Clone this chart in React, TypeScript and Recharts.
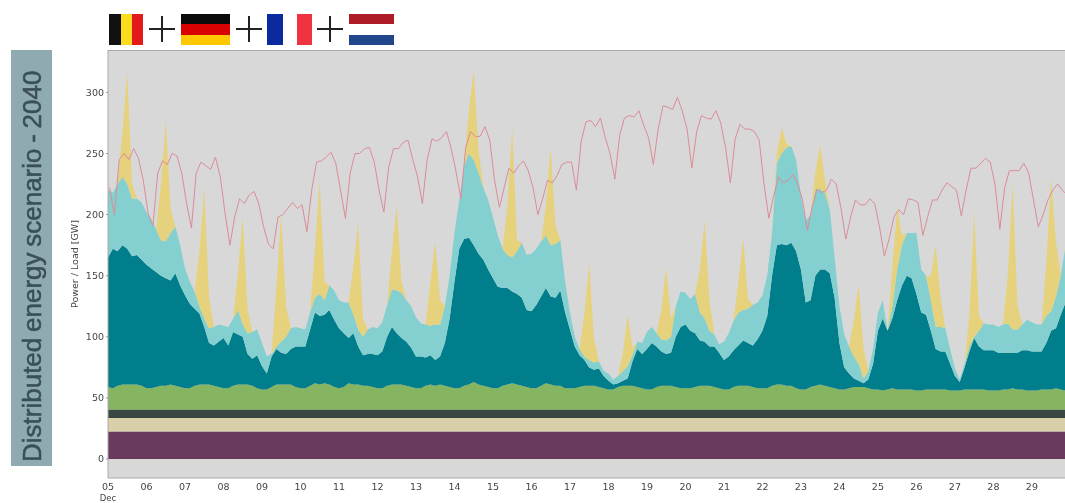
import { Area, CartesianGrid, ComposedChart, Line, XAxis, YAxis } from "recharts";

const dayLabels = ["05", "06", "07", "08", "09", "10", "11", "12", "13", "14", "15", "16", "17", "18", "19", "20", "21", "22", "23", "24", "25", "26", "27", "28", "29"];
const yTicks = [0, 50, 100, 150, 200, 250, 300];
const sampleHours = [0, 3, 6, 9, 12, 15, 18, 21];
const loadHours = [1, 4, 7, 10, 13, 16, 19, 22];

// flat bands, GW
const purpleBand = 22.5;
const tanBand = 11;
const coalBand = 7;

// upper edge of the green band, one row per day
const greenTop = [
  59, 58, 60, 61, 61, 61, 61, 60,
  58, 58, 59, 60, 60, 61, 60, 59,
  58, 58, 60, 61, 61, 61, 60, 59,
  58, 58, 60, 61, 61, 61, 60, 58,
  57, 57, 59, 61, 61, 61, 61, 59,
  58, 58, 60, 62, 61, 62, 61, 59,
  58, 59, 62, 61, 61, 60, 60, 59,
  58, 58, 60, 61, 61, 61, 60, 59,
  58, 58, 60, 61, 60, 61, 60, 59,
  58, 58, 60, 61, 63, 61, 60, 59,
  58, 58, 60, 61, 62, 61, 60, 59,
  58, 58, 60, 62, 61, 60, 60, 58,
  58, 58, 59, 60, 60, 60, 59, 58,
  57, 57, 59, 60, 60, 60, 59, 58,
  57, 57, 59, 60, 60, 60, 59, 58,
  58, 58, 59, 60, 60, 60, 59, 58,
  57, 57, 59, 60, 60, 60, 59, 58,
  58, 58, 60, 61, 61, 60, 60, 58,
  57, 57, 59, 60, 61, 60, 59, 58,
  57, 57, 58, 59, 59, 59, 58, 57,
  57, 56, 57, 58, 57, 57, 57, 57,
  56, 56, 57, 57, 57, 57, 57, 56,
  56, 56, 57, 57, 57, 57, 57, 56,
  56, 56, 57, 57, 58, 57, 57, 56,
  56, 56, 57, 57, 57, 58, 57, 56,
];

const tealTop = [
  165, 172, 170, 175, 172, 166, 167, 163,
  159, 156, 153, 150, 148, 146, 152, 142,
  134, 127, 123, 119, 108, 95, 93, 96,
  99, 93, 104, 102, 100, 86, 82, 85,
  76, 70, 84, 90, 87, 86, 90, 92,
  92, 92, 106, 120, 117, 118, 122, 114,
  107, 103, 99, 103, 92, 85, 86, 86,
  85, 88, 100, 108, 103, 99, 96, 91,
  84, 84, 83, 85, 81, 84, 95, 115,
  145, 172, 180, 181, 175, 168, 163, 155,
  148, 141, 140, 140, 137, 135, 132, 122,
  121, 126, 133, 140, 133, 132, 138, 120,
  106, 92, 85, 81, 75, 73, 74, 68,
  64, 61, 62, 64, 66, 80, 90, 86,
  90, 95, 92, 88, 86, 87, 100, 108,
  110, 105, 103, 97, 96, 92, 92, 87,
  81, 84, 89, 93, 97, 95, 93, 98,
  105, 117, 150, 175, 176, 175, 177, 170,
  155, 128, 130, 150, 155, 155, 152, 132,
  95, 75, 70, 66, 64, 62, 65, 78,
  105, 115, 105, 115, 130, 142, 150, 148,
  135, 120, 118, 105, 90, 88, 88, 78,
  68, 63, 75, 88, 99, 92, 89, 89,
  89, 87, 87, 87, 87, 87, 89, 89,
  88, 88, 88, 95, 105, 107, 118, 128,
];

const lightTop = [
  220, 218, 225, 231, 225, 213, 213, 210,
  202, 196, 188, 179, 178, 185, 190, 175,
  156, 145, 137, 125, 115, 107, 108, 110,
  109, 108, 115, 122, 110, 103, 104, 106,
  95, 84, 86, 92, 96, 100, 107, 108,
  107, 106, 120, 132, 135, 130, 142, 138,
  130, 128, 128, 118, 106, 100, 106, 108,
  107, 112, 126, 139, 138, 136, 130, 125,
  116, 111, 110, 109, 110, 110, 125, 150,
  185, 212, 240, 250, 245, 234, 222, 212,
  198, 183, 172, 167, 165, 170, 177, 167,
  168, 172, 178, 183, 175, 176, 179, 145,
  120, 100, 90, 84, 81, 79, 80, 72,
  70, 65, 68, 72, 76, 85, 96, 95,
  104, 108, 103, 98, 97, 100, 125, 137,
  136, 131, 135, 120, 115, 105, 102, 94,
  96, 103, 113, 120, 122, 123, 126, 128,
  134, 150, 185, 242, 250, 255, 256, 245,
  215, 195, 200, 220, 221, 218, 204, 165,
  125, 102, 92, 84, 78, 66, 72, 90,
  120, 130, 105, 125, 155, 175, 185, 185,
  185, 155, 150, 130, 108, 108, 107, 90,
  74, 65, 78, 92, 100, 105, 111, 110,
  110, 108, 110, 111, 106, 106, 110, 114,
  112, 110, 110, 117, 121, 133, 150, 174,
];

// solar sitting on top of the wind bands
const solar = [
  0, 0, 0, 36, 92, 12, 0, 0,
  0, 0, 0, 45, 99, 20, 0, 0,
  0, 0, 0, 45, 107, 25, 0, 0,
  0, 0, 0, 30, 88, 20, 0, 0,
  0, 0, 0, 50, 104, 25, 0, 0,
  0, 0, 0, 40, 93, 15, 0, 0,
  0, 0, 0, 40, 87, 15, 0, 0,
  0, 0, 0, 30, 70, 10, 0, 0,
  0, 0, 0, 35, 68, 20, 0, 0,
  0, 0, 0, 36, 73, 19, 0, 0,
  0, 0, 0, 40, 106, 9, 0, 0,
  0, 0, 0, 25, 80, 15, 0, 0,
  0, 0, 0, 35, 79, 20, 0, 0,
  0, 0, 0, 15, 42, 6, 0, 0,
  0, 0, 0, 25, 60, 15, 0, 0,
  0, 0, 0, 35, 81, 25, 0, 0,
  0, 0, 0, 25, 59, 8, 0, 0,
  0, 0, 0, 8, 21, 3, 0, 0,
  0, 0, 0, 15, 36, 10, 0, 0,
  0, 0, 0, 30, 65, 25, 0, 0,
  0, 0, 0, 32, 51, 8, 0, 0,
  0, 0, 0, 20, 67, 25, 0, 0,
  0, 0, 0, 25, 102, 12, 0, 0,
  0, 0, 0, 40, 120, 20, 0, 0,
  0, 0, 0, 45, 109, 45, 0, 0,
];

const load = [
  222, 200, 245, 250, 245, 254, 246, 228,
  201, 191, 234, 244, 241, 250, 248, 234,
  209, 189, 234, 243, 240, 237, 247, 231,
  201, 175, 198, 213, 209, 216, 219, 209,
  190, 176, 172, 198, 200, 205, 210, 205,
  208, 186, 220, 243, 244, 247, 251, 242,
  220, 197, 234, 250, 250, 254, 255, 243,
  220, 202, 239, 254, 254, 259, 261, 245,
  231, 209, 245, 262, 260, 263, 268, 254,
  235, 213, 255, 268, 264, 264, 272, 261,
  228, 206, 222, 238, 234, 240, 244, 236,
  222, 200, 213, 228, 226, 232, 241, 243,
  243, 220, 260, 276, 277, 272, 279, 263,
  250, 229, 265, 279, 281, 280, 285, 273,
  263, 241, 270, 289, 288, 286, 296, 285,
  270, 238, 268, 281, 279, 278, 285, 275,
  255, 226, 262, 274, 270, 270, 268, 261,
  225, 197, 215, 231, 226, 228, 233, 225,
  212, 187, 206, 221, 218, 220, 229, 225,
  205, 180, 198, 212, 208, 208, 213, 209,
  190, 166, 180, 198, 204, 200, 213, 212,
  210, 183, 198, 212, 212, 220, 226, 223,
  220, 199, 220, 238, 238, 242, 246, 243,
  225, 188, 222, 236, 236, 236, 242, 234,
  212, 190, 200, 212, 220, 225, 220, 216,
];

const stackTable = greenTop.map((green, i) => {
  const day = Math.floor(i / 8);
  return {
    day: day + sampleHours[i % 8] / 24,
    purple: purpleBand,
    tan: tanBand,
    coal: coalBand,
    green: green - (purpleBand + tanBand + coalBand),
    teal: tealTop[i] - green,
    light: lightTop[i] - tealTop[i],
    solar: solar[i],
  };
});

const loadTable = load.map((value, i) => ({
  day: Math.floor(i / 8) + loadHours[i % 8] / 24,
  load: value,
}));

const dayTicks = dayLabels.map((_, i) => i);

const layers: [string, string][] = [
  ["purple", "#6a3a5c"],
  ["tan", "#d9cfa8"],
  ["coal", "#3a4641"],
  ["green", "#86b562"],
  ["teal", "#007e8c"],
  ["light", "#84cfcf"],
  ["solar", "#e6d27c"],
];

const DayTick = ({ x, payload }: any) => (
  <g>
    <text x={x} y={490} textAnchor="middle" fontSize={9.5} fill="#444">
      {dayLabels[payload.value]}
    </text>
    {payload.value === 0 && (
      <text x={x} y={501} textAnchor="middle" fontSize={8.5} fill="#444">
        Dec
      </text>
    )}
  </g>
);

const box = (left: number, top: number, width: number, height: number, background: string) => (
  <div style={{ position: "absolute", left, top, width, height, background }} />
);

const Plus = ({ left }: { left: number }) => (
  <>
    {box(left, 28, 26, 2, "#222")}
    {box(left + 12, 16, 2, 26, "#222")}
  </>
);

export default function App() {
  return (
    <div
      style={{
        position: "absolute",
        left: 0,
        top: 0,
        width: 1065,
        height: 503,
        overflow: "hidden",
        background: "#fff",
        fontFamily: "'DejaVu Sans'",
        filter: "blur(0.5px)",
      }}
    >
      {box(109, 14, 12, 31, "#111")}
      {box(121, 14, 11, 31, "#fbdc1e")}
      {box(132, 14, 11, 31, "#e21a1a")}
      <Plus left={149} />
      {box(181, 14, 49, 10, "#0a0a0a")}
      {box(181, 24, 49, 11, "#d80000")}
      {box(181, 35, 49, 10, "#fdc800")}
      <Plus left={236} />
      {box(267, 14, 16, 31, "#0b2a9e")}
      {box(297, 14, 15, 31, "#ef3340")}
      <Plus left={317} />
      {box(349, 14, 45, 10, "#ae1c28")}
      {box(349, 35, 45, 10, "#21468b")}

      <div
        style={{
          position: "absolute",
          left: 11,
          top: 50,
          width: 41,
          height: 416,
          background: "#8faab0",
        }}
      />
      <div
        style={{
          position: "absolute",
          left: 12,
          top: 64,
          width: 41,
          height: 404,
          writingMode: "vertical-rl",
          transform: "rotate(180deg)",
          display: "flex",
          alignItems: "center",
          justifyContent: "center",
          fontFamily: "'Liberation Sans'",
          fontSize: 26,
          WebkitTextStroke: "0.5px #3a4f56",
          wordSpacing: -1.5,
          color: "#3a4f56",
          whiteSpace: "nowrap",
        }}
      >
        Distributed energy scenario - 2040
      </div>

      <div style={{ position: "absolute", left: 0, top: 0 }}>
        <ComposedChart
          width={1065}
          height={503}
          data={stackTable}
          margin={{ top: 50, right: 0, bottom: 0, left: 68 }}
        >
          <CartesianGrid horizontal={false} vertical={false} fill="#d8d8d8" />
          <XAxis
            dataKey="day"
            type="number"
            domain={[0, 24.86]}
            allowDataOverflow
            ticks={dayTicks}
            interval={0}
            height={25}
            tick={<DayTick />}
            tickLine={false}
            axisLine={{ stroke: "#aaa" }}
          />
          <YAxis
            type="number"
            domain={[-15.5, 334.7]}
            allowDataOverflow
            ticks={yTicks}
            interval={0}
            width={40}
            tick={{ fontSize: 9.5, fill: "#444" }}
            tickLine={{ stroke: "#999" }}
            tickSize={2}
            axisLine={{ stroke: "#aaa" }}
            label={{
              value: "Power / Load [GW]",
              angle: -90,
              position: "insideLeft",
              offset: 7,
              style: { fontSize: 9.5, fill: "#444", textAnchor: "middle" },
            }}
          />
          {layers.map(([key, color]) => (
            <Area
              key={key}
              dataKey={key}
              stackId="power"
              type="linear"
              fill={color}
              fillOpacity={1}
              stroke="none"
              isAnimationActive={false}
              dot={false}
              activeDot={false}
            />
          ))}
          <Line
            data={loadTable}
            dataKey="load"
            type="linear"
            stroke="#dc8c98"
            strokeWidth={1}
            dot={false}
            activeDot={false}
            isAnimationActive={false}
          />
        </ComposedChart>
      </div>
      {box(108, 50, 957, 1, "#aaa")}
    </div>
  );
}
